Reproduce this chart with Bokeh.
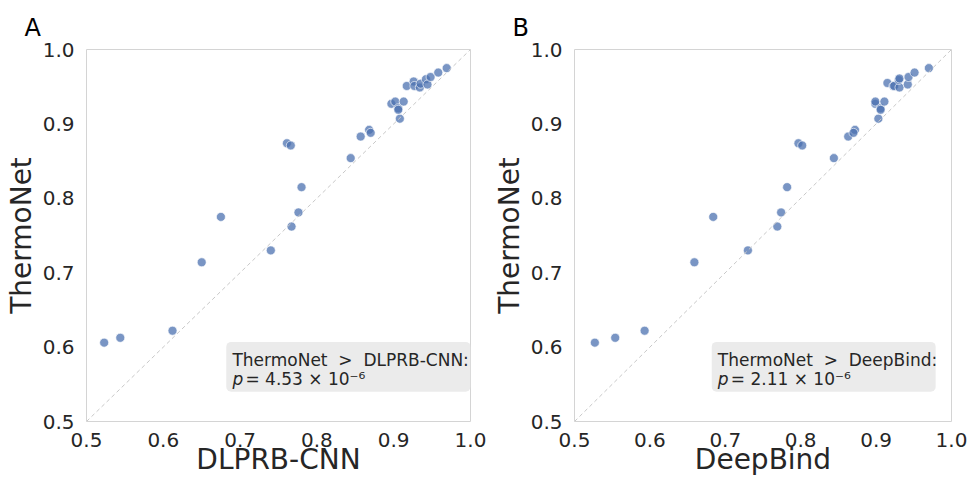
from bokeh.plotting import figure
from bokeh.layouts import row
from bokeh.models import ColumnDataSource, Range1d, FixedTicker, Slope, BoxAnnotation, Label
from bokeh.embed import file_html
from bokeh.resources import INLINE

# ---- data ----
tick_values = [0.5, 0.6, 0.7, 0.8, 0.9, 1.0]
tick_labels = ["0.5", "0.6", "0.7", "0.8", "0.9", "1.0"]

dlprb_cnn = [0.523, 0.544, 0.612, 0.650, 0.675, 0.740, 0.767, 0.776, 0.780, 0.761, 0.766,
             0.844, 0.857, 0.868, 0.870, 0.908, 0.897, 0.902, 0.906, 0.906, 0.913,
             0.917, 0.926, 0.927, 0.934, 0.935, 0.942, 0.944, 0.948, 0.958, 0.969]
thermonet_a = [0.606, 0.6125, 0.622, 0.714, 0.775, 0.730, 0.762, 0.781, 0.815, 0.874, 0.871,
               0.854, 0.883, 0.892, 0.888, 0.907, 0.927, 0.930, 0.921, 0.919, 0.930,
               0.951, 0.957, 0.951, 0.949, 0.954, 0.960, 0.953, 0.963, 0.969, 0.975]

deepbind = [0.527, 0.554, 0.593, 0.659, 0.684, 0.730, 0.769, 0.774, 0.782, 0.797, 0.802,
            0.844, 0.863, 0.872, 0.870, 0.903, 0.899, 0.899, 0.906, 0.906, 0.911,
            0.915, 0.923, 0.924, 0.931, 0.930, 0.931, 0.942, 0.943, 0.951, 0.970]
thermonet_b = [0.606, 0.6125, 0.622, 0.714, 0.775, 0.730, 0.762, 0.781, 0.815, 0.874, 0.871,
               0.854, 0.883, 0.892, 0.888, 0.907, 0.927, 0.930, 0.921, 0.919, 0.930,
               0.955, 0.951, 0.951, 0.949, 0.959, 0.961, 0.953, 0.963, 0.969, 0.975]

FONT = "DejaVu Sans"
TXT = "#262626"
NB = "\u00a0"


def panel(letter, xs, ys, xlabel, comp, pval, width, left, right, box_right):
    p = figure(width=width, height=478, output_backend="svg", toolbar_location=None,
               x_range=Range1d(0.5, 1.0), y_range=Range1d(0.5, 1.0),
               min_border_left=left, min_border_right=right,
               min_border_top=49, min_border_bottom=54)
    p.background_fill_color = "white"
    p.border_fill_color = "white"
    p.outline_line_color = "#d4d4d4"
    p.outline_line_width = 1
    p.xgrid.visible = False
    p.ygrid.visible = False

    p.title.text = letter
    p.title.text_font = FONT
    p.title.text_font_size = "24px"
    p.title.text_font_style = "normal"
    p.title.text_color = "black"
    p.title.align = "left"
    p.title.offset = -62
    p.title.standoff = 16

    for ax in (p.xaxis[0], p.yaxis[0]):
        ax.ticker = FixedTicker(ticks=tick_values)
        ax.major_label_overrides = {v: s for v, s in zip(tick_values, tick_labels)}
        ax.major_label_text_font = FONT
        ax.major_label_text_font_size = "20px"
        ax.major_label_text_color = TXT
        ax.major_tick_line_color = None
        ax.minor_tick_line_color = None
        ax.axis_line_color = None
        ax.axis_label_text_font = FONT
        ax.axis_label_text_font_size = "28px"
        ax.axis_label_text_font_style = "normal"
        ax.axis_label_text_color = TXT
    p.xaxis.major_label_standoff = 5
    p.xaxis.axis_label_standoff = -7
    p.yaxis.major_label_standoff = 6
    p.yaxis.axis_label_standoff = 2
    p.xaxis.axis_label = xlabel
    p.yaxis.axis_label = "ThermoNet"

    p.add_layout(Slope(gradient=1, y_intercept=0, line_color="#c8c8c8",
                       line_dash="4 3", line_width=1))

    src = ColumnDataSource(dict(x=xs, y=ys))
    p.scatter("x", "y", source=src, size=9, fill_color="#4c72b0", fill_alpha=0.75,
              line_color="white", line_width=0.8, line_alpha=0.8)

    p.add_layout(BoxAnnotation(left=0.682, right=box_right, bottom=0.540, top=0.607,
                               fill_color="#ebebeb", fill_alpha=1.0, line_color=None,
                               border_radius=5, level="overlay"))
    p.add_layout(Label(x=0.690, y=0.583, text="ThermoNet" + NB * 2 + ">" + NB * 2 + comp + ":",
                       text_font=FONT, text_font_size="17px", text_color=TXT,
                       text_baseline="alphabetic", level="overlay"))
    p.add_layout(Label(x=0.690, y=0.5577, text="p", text_font=FONT,
                       text_font_size="17px", text_font_style="italic", text_color=TXT,
                       text_baseline="alphabetic", level="overlay"))
    p.add_layout(Label(x=0.690, y=0.5577, x_offset=13, text="=" + NB + pval,
                       text_font=FONT, text_font_size="17px", text_color=TXT,
                       text_baseline="alphabetic", level="overlay"))
    return p


pa = panel("A", dlprb_cnn, thermonet_a, "DLPRB-CNN", "DLPRB-CNN",
           "4.53" + NB + "\u00d7" + NB + "10\u207b\u2076", 489, 86, 19, 1.0)
pb = panel("B", deepbind, thermonet_b, "DeepBind", "DeepBind",
           "2.11" + NB + "\u00d7" + NB + "10\u207b\u2076", 490, 78, 28, 0.979)

layout = row(pa, pb)
open("out.html", "w").write(file_html(layout, INLINE))
